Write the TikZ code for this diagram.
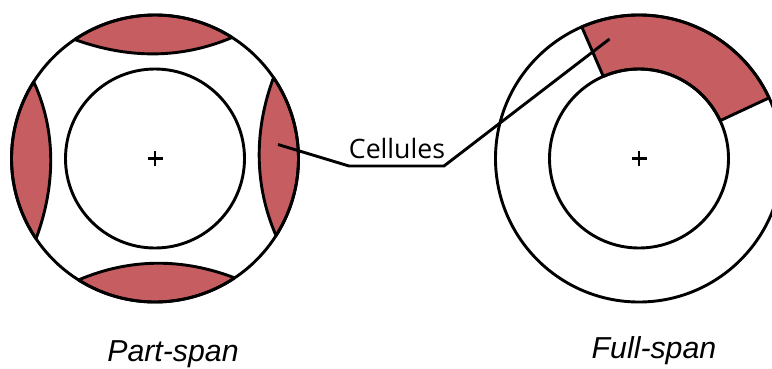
\documentclass[tikz,border=0pt]{standalone}
\usepackage{fontspec}
\setmainfont{Liberation Sans}
\newfontfamily\labelfont{Open Sans}
\definecolor{cell}{HTML}{C65D60}
\tikzset{
  outline/.style={draw=black,line width=2.9pt},
  cellfill/.style={fill=cell,draw=black,line width=2.9pt,line join=round},
  leader/.style={draw=black,line width=2.9pt,line join=miter},
  caption/.style={font=\fontsize{30.3}{32}\selectfont\itshape,anchor=base,inner sep=0pt},
  cellslabel/.style={font=\labelfont\fontsize{26.7}{28}\selectfont,anchor=base,inner sep=0pt},
  crossmark/.style={draw=black,line width=2.4pt}
}
\begin{document}
\begin{tikzpicture}[x=1pt,y=-1pt]
\useasboundingbox (0,0) rectangle (772,368);
\clip (0,0) rectangle (772,368);
\coordinate (L) at (155,158.5);
\coordinate (R) at (639,158.5);
% left: part-span cells
\coordinate (tcell) at ([shift={(124:143.5pt)}]L);
\coordinate (bcell) at ([shift={(-122.2:143.5pt)}]L);
\coordinate (lcell) at ([shift={(147.7:143.5pt)}]L);
\coordinate (rcell) at ([shift={(34.3:143.5pt)}]L);
\draw[cellfill] (tcell) arc[start angle=124,end angle=57.5,radius=143.5pt]
  .. controls (181,59) and (129,59) .. (tcell) -- cycle;
\draw[cellfill] (bcell) arc[start angle=-122.2,end angle=-56.3,radius=143.5pt]
  .. controls (183,258) and (130,258) .. (bcell) -- cycle;
\draw[cellfill] (lcell) arc[start angle=147.7,end angle=214,radius=143.5pt]
  .. controls (56,185) and (56,130) .. (lcell) -- cycle;
\draw[cellfill] (rcell) arc[start angle=34.3,end angle=-32.5,radius=143.5pt]
  .. controls (254,185) and (254,130) .. (rcell) -- cycle;
\draw[outline] (L) circle[radius=143.5pt];
\draw[outline] (L) circle[radius=89.5pt];
\draw[crossmark] (147.5,158.5) -- (162.5,158.5) (155,151) -- (155,166);
% right: full-span cell
\coordinate (fcell) at ([shift={(113.5:143.5pt)}]R);
\draw[cellfill] (fcell) arc[start angle=113.5,end angle=25,radius=143.5pt]
  -- ++(205:54pt) arc[start angle=25,end angle=113.5,radius=89.5pt] -- cycle;
\draw[outline] (R) circle[radius=143.5pt];
\draw[outline] (R) circle[radius=89.5pt];
\draw[crossmark] (631.5,158.5) -- (646.5,158.5) (639,151) -- (639,166);
% labels
\node[cellslabel] (cellules) at (397,158) {Cellules};
\node[caption] (partspan) at (173,361.5) {Part-span};
\node[caption] (fullspan) at (654,358) {Full-span};
% leader
\coordinate (leftcell) at (278,144.5);
\coordinate (rightcell) at (609.5,39);
\coordinate (kneeA) at (349,166);
\coordinate (kneeB) at (444,166);
\draw[leader] (leftcell) -- (kneeA) -- (kneeB) -- (rightcell);
\end{tikzpicture}
\end{document}
